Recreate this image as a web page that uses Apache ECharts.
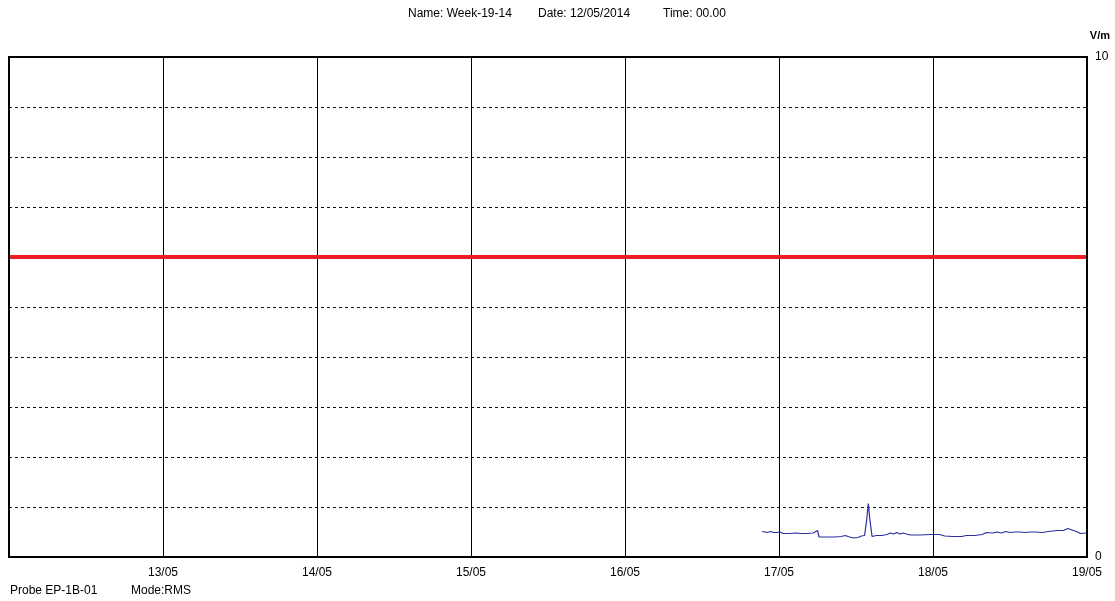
<!DOCTYPE html>
<html>
<head>
<meta charset="utf-8">
<script src="https://cdn.jsdelivr.net/npm/echarts@6/dist/echarts.min.js"></script>
<style>
html,body{margin:0;padding:0;background:#fff;}
#chart{width:1115px;height:601px;}
</style>
</head>
<body>
<div id="chart"></div>
<script>
// ---- data ----
const dayTickLabels = ['', '13/05', '14/05', '15/05', '16/05', '17/05', '18/05', '19/05'];
const yTickLabels = {0: '0', 10: '10'};
const limitValue = 6;
const sampleTimes = [
  '2014-05-16T21:20','2014-05-16T21:50','2014-05-16T22:10','2014-05-16T22:40','2014-05-16T23:10','2014-05-16T23:40',
  '2014-05-17T00:10','2014-05-17T00:40','2014-05-17T01:40','2014-05-17T02:40','2014-05-17T03:20','2014-05-17T04:20',
  '2014-05-17T05:20','2014-05-17T06:00','2014-05-17T06:15','2014-05-17T07:30','2014-05-17T08:40','2014-05-17T09:40',
  '2014-05-17T10:20','2014-05-17T11:00','2014-05-17T11:40','2014-05-17T12:20','2014-05-17T12:50','2014-05-17T13:20',
  '2014-05-17T13:40','2014-05-17T13:55','2014-05-17T14:10','2014-05-17T14:30','2014-05-17T15:10','2014-05-17T16:00',
  '2014-05-17T16:50','2014-05-17T17:20','2014-05-17T17:50','2014-05-17T18:20','2014-05-17T18:50','2014-05-17T19:20',
  '2014-05-17T19:50','2014-05-17T20:30','2014-05-17T22:00','2014-05-17T23:30','2014-05-18T01:00','2014-05-18T01:50',
  '2014-05-18T03:00','2014-05-18T04:30','2014-05-18T05:10','2014-05-18T06:30','2014-05-18T07:40','2014-05-18T08:20',
  '2014-05-18T09:20','2014-05-18T10:00','2014-05-18T10:40','2014-05-18T11:20','2014-05-18T12:00','2014-05-18T12:50',
  '2014-05-18T13:30','2014-05-18T14:20','2014-05-18T15:10','2014-05-18T16:00','2014-05-18T17:00','2014-05-18T18:00',
  '2014-05-18T19:20','2014-05-18T20:20','2014-05-18T21:00','2014-05-18T21:40','2014-05-18T22:20','2014-05-18T23:00',
  '2014-05-18T23:50'
];
const sampleValues = [
  0.51,0.50,0.49,0.51,0.49,0.49,
  0.50,0.47,0.47,0.48,0.47,0.47,
  0.48,0.53,0.40,0.40,0.40,0.41,
  0.43,0.40,0.38,0.39,0.42,0.43,
  0.74,1.07,0.74,0.41,0.43,0.43,
  0.45,0.48,0.46,0.49,0.46,0.48,
  0.46,0.44,0.44,0.45,0.45,0.42,
  0.41,0.41,0.43,0.43,0.45,0.49,
  0.48,0.50,0.48,0.51,0.49,0.50,
  0.50,0.49,0.50,0.50,0.49,0.51,
  0.53,0.53,0.57,0.54,0.51,0.47,
  0.48
];

const DAY = 86400000;
const xMin = Date.UTC(2014, 4, 12);
const xMax = Date.UTC(2014, 4, 19);
const seriesData = sampleTimes.map((t, i) => [Date.parse(t + ':00Z'), sampleValues[i]]);

const font = 'Liberation Sans, Arial, sans-serif';
const chart = echarts.init(document.getElementById('chart'), null, {renderer: 'canvas'});
chart.setOption({
  animation: false,
  backgroundColor: '#fff',
  grid: {left: 9, right: 28, top: 57, bottom: 44, show: true, borderColor: '#000', borderWidth: 2, backgroundColor: 'transparent', z: 10},
  xAxis: {
    type: 'value', min: xMin, max: xMax, interval: DAY,
    axisLine: {show: false}, axisTick: {show: false},
    axisLabel: {
      color: '#000', fontSize: 12, fontFamily: font, margin: 10,
      formatter: v => dayTickLabels[Math.round((v - xMin) / DAY)] || ''
    },
    splitLine: {show: true, lineStyle: {color: '#000', width: 1, type: 'solid'}}
  },
  yAxis: {
    type: 'value', min: 0, max: 10, interval: 1, position: 'right',
    axisLine: {show: false}, axisTick: {show: false},
    axisLabel: {
      color: '#000', fontSize: 12, fontFamily: font, margin: 8,
      formatter: v => yTickLabels[v] !== undefined ? yTickLabels[v] : ''
    },
    splitLine: {show: true, lineStyle: {color: '#111', width: 1, type: [3, 3]}}
  },
  graphic: [
    {type: 'text', left: 408, top: 8, style: {text: 'Name: Week-19-14', fill: '#000', font: '12px ' + font}},
    {type: 'text', left: 538, top: 8, style: {text: 'Date: 12/05/2014', fill: '#000', font: '12px ' + font}},
    {type: 'text', left: 663, top: 8, style: {text: 'Time: 00.00', fill: '#000', font: '12px ' + font}},
    {type: 'text', right: 5, top: 30, style: {text: 'V/m', fill: '#000', font: 'bold 11px ' + font}},
    {type: 'text', left: 10, top: 585, style: {text: 'Probe EP-1B-01', fill: '#000', font: '12px ' + font}},
    {type: 'text', left: 131, top: 585, style: {text: 'Mode:RMS', fill: '#000', font: '12px ' + font}}
  ],
  series: [{
    type: 'line',
    data: seriesData,
    showSymbol: false,
    symbol: 'none',
    lineStyle: {color: '#2e2ea0', width: 1.2},
    z: 5,
    markLine: {
      silent: true,
      symbol: ['none', 'none'],
      label: {show: false},
      lineStyle: {color: '#ed1c24', width: 4, type: 'solid'},
      data: [{yAxis: limitValue}]
    }
  }]
});
</script>
</body>
</html>
